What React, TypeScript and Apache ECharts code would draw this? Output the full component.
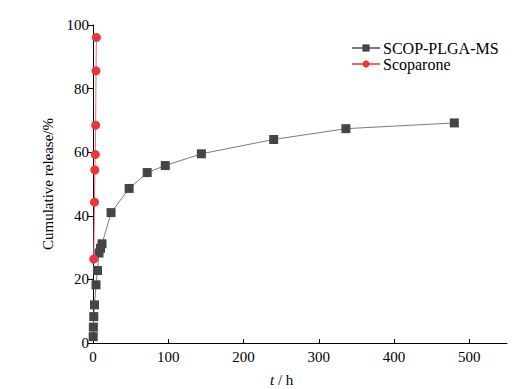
import React, { useEffect, useRef } from "react";
import * as echarts from "echarts";

const scopTimes = [0.25, 0.5, 1, 2, 4, 6, 8, 10, 12, 24, 48, 72, 96, 144, 240, 336, 480];
const scopValues = [2, 5, 8.3, 12, 18.3, 22.8, 28.3, 29.8, 31.2, 41, 48.6, 53.6, 55.8, 59.5, 64, 67.4, 69.2];
const scopaTimes = [1, 2, 2.5, 3, 3.5, 4, 4.5];
const scopaValues = [26.4, 44.3, 54.4, 59.3, 68.5, 85.6, 96.1];
const xTicks = [0, 100, 200, 300, 400, 500];

const FONT = "Liberation Serif";

export default function App() {
  const ref = useRef<HTMLDivElement>(null);
  useEffect(() => {
    if (!ref.current) return;
    const chart = echarts.init(ref.current, null, { renderer: "svg" });
    chart.setOption({
      animation: false,
      backgroundColor: "#fff",
      textStyle: { fontFamily: FONT },
      grid: { left: 93, right: 21, top: 25, bottom: 46 },
      legend: {
        left: 346,
        top: 35,
        orient: "vertical",
        itemWidth: 28,
        itemHeight: 9,
        itemGap: 0,
        textStyle: { fontFamily: FONT, fontSize: 16, color: "#000", padding: [0, 0, 0, -2] },
        data: ["SCOP-PLGA-MS", "Scoparone"],
      },
      xAxis: {
        type: "value",
        min: 0,
        max: 550,
        interval: 100,
        splitLine: { show: false },
        axisLine: { onZero: false, lineStyle: { color: "#000", width: 1 } },
        axisTick: { inside: true, length: 4, customValues: xTicks, lineStyle: { color: "#000" } },
        axisLabel: { customValues: xTicks, color: "#000", fontFamily: FONT, fontSize: 15, margin: 6 },
      },
      yAxis: {
        type: "value",
        min: 0,
        max: 100,
        interval: 20,
        name: "Cumulative release/%",
        nameLocation: "middle",
        nameGap: 38,
        nameTextStyle: { fontFamily: FONT, fontSize: 15, color: "#000" },
        splitLine: { show: false },
        axisLine: { show: true, lineStyle: { color: "#000", width: 1 } },
        axisTick: { show: true, inside: false, length: 5, lineStyle: { color: "#000" } },
        axisLabel: { color: "#000", fontFamily: FONT, fontSize: 15, margin: 4 },
      },
      graphic: [
        {
          type: "text",
          left: 270,
          top: 372,
          style: {
            text: "{i|t} / h",
            rich: {
              i: { fontFamily: FONT, fontSize: 15, fontStyle: "italic", fill: "#000" },
            },
            font: `15px "${FONT}"`,
            fill: "#000",
          },
        },
      ],
      series: [
        {
          name: "SCOP-PLGA-MS",
          type: "line",
          data: scopTimes.map((t, i) => [t, scopValues[i]]),
          symbol: "rect",
          symbolSize: 9,
          itemStyle: { color: "#454545" },
          lineStyle: { color: "#7a7a7a", width: 1 },
          z: 2,
        },
        {
          name: "Scoparone",
          type: "line",
          data: scopaTimes.map((t, i) => [t, scopaValues[i]]),
          symbol: "circle",
          symbolSize: 9,
          itemStyle: { color: "#e8383d" },
          lineStyle: { color: "#ef6b6e", width: 1 },
          z: 3,
        },
      ],
    });
    return () => chart.dispose();
  }, []);
  return (
    <div
      ref={ref}
      style={{ position: "fixed", left: 0, top: 0, width: 528, height: 389, background: "#fff" }}
    />
  );
}
